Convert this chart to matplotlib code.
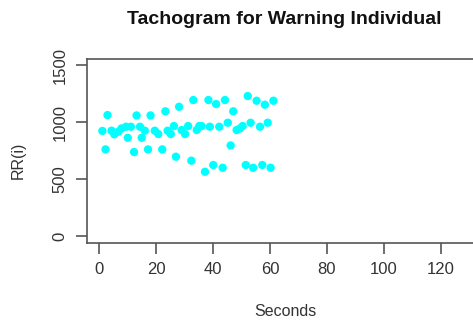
import matplotlib
matplotlib.use("Agg")
import matplotlib.pyplot as plt

seconds = [1.2, 2.3, 3.0, 4.4, 5.4, 6.8, 7.9, 9.5, 10.1, 11.2, 12.3, 13.2, 14.4, 15.0,
           16.1, 17.2, 18.1, 19.6, 20.8, 22.2, 23.3, 24.1, 25.2, 26.3, 27.0, 28.1, 29.0,
           30.2, 31.3, 32.4, 33.1, 34.3, 35.2, 36.0, 37.2, 38.4, 38.9, 40.1, 41.1, 42.2,
           43.4, 44.2, 45.2, 46.2, 47.1, 48.3, 49.5, 50.4, 51.5, 52.2, 53.2, 54.1, 55.3,
           56.5, 57.3, 58.2, 59.2, 60.2, 61.2]
rr = [922, 760, 1061, 924, 892, 915, 944, 959, 862, 959, 737, 1058, 959, 862,
      924, 760, 1058, 924, 895, 760, 1094, 924, 895, 965, 696, 1134, 930,
      895, 965, 661, 1193, 930, 965, 965, 564, 1193, 959, 623, 1158, 959,
      599, 1193, 994, 795, 1094, 930, 944, 965, 623, 1228, 994, 599, 1187,
      959, 623, 1152, 994, 599, 1187]

xticks = [0, 20, 40, 60, 80, 100, 120]
yticks = [0, 500, 1000, 1500]

plt.rcParams['font.family'] = ['Liberation Sans', 'DejaVu Sans']
W, H = 473, 323
fig = plt.figure(figsize=(W / 100, H / 100), dpi=100)
left, top, bottom, right = 87, 59, 243, 482
ax = fig.add_axes([left / W, 1 - bottom / H, (right - left) / W, (bottom - top) / H])
ax.scatter(seconds, rr, s=36, color='#00ffff', edgecolors='none', zorder=3)
ax.set_xlim(-4.2, (right - 99) / 2.85)
ax.set_ylim(-61, 1553)
ax.set_xticks(xticks)
ax.set_yticks(yticks)
ax.set_xticklabels([str(v) for v in xticks], fontsize=12, color='#333333')
ax.set_yticklabels([str(v) for v in yticks], fontsize=12, color='#333333', rotation=90, va='center')
ax.tick_params(direction='out', length=8, width=1.2, color='#555555', pad=6)
for s in ax.spines.values():
    s.set_color('#555555')
    s.set_linewidth(1.2)
fig.text(285 / W, 1 - 312 / H, 'Seconds', ha='center', va='center', fontsize=11.5, color='#333333')
fig.text(18 / W, 1 - 160 / H, 'RR(i)', ha='center', va='center', fontsize=11.5,
         color='#333333', rotation=90)
fig.text(284 / W, 1 - 20 / H, 'Tachogram for Warning Individual', ha='center', va='center',
         fontsize=14, fontweight='bold', color='#111111')
fig.savefig('out.png', dpi=100)
